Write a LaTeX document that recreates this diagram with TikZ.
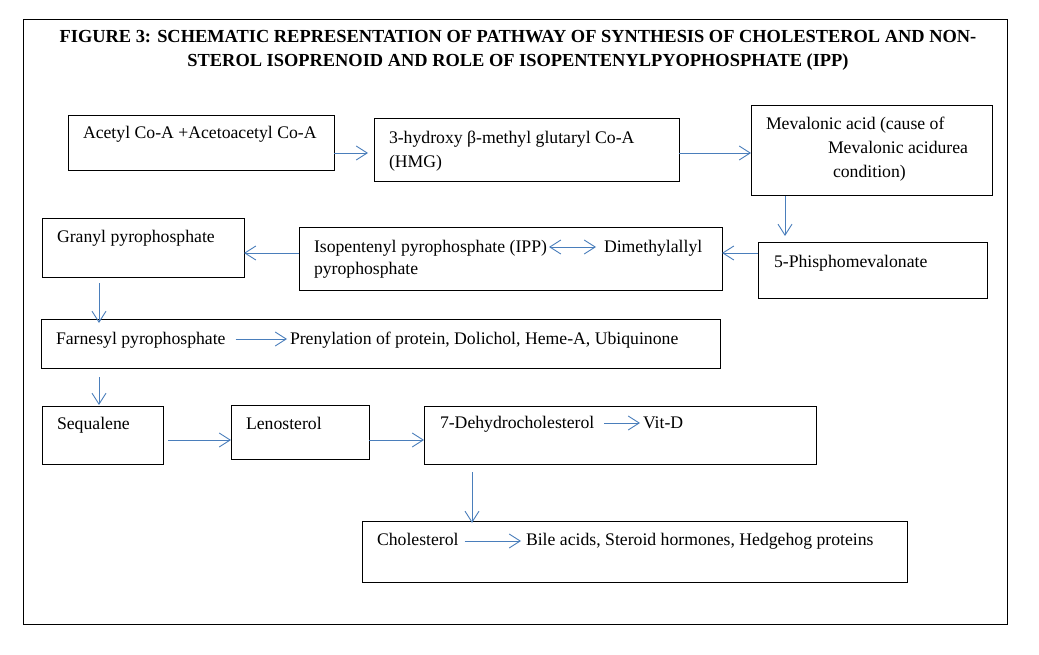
\documentclass[tikz,border=0pt]{standalone}
\usepackage{fontspec}
\setmainfont{Liberation Serif}
\usetikzlibrary{arrows.meta}
\definecolor{arrblue}{HTML}{4A7EBB}
\begin{document}
\begin{tikzpicture}[x=1pt,y=-1pt,
  box/.style={draw=black, line width=1pt, inner sep=0pt, outer sep=0pt, anchor=north west},
  txt/.style={inner sep=0pt, outer sep=0pt, anchor=base west, font=\fontsize{17.7}{21}\selectfont},
  ttl/.style={inner sep=0pt, outer sep=0pt, anchor=base, font=\fontsize{18.4}{21}\selectfont\bfseries},
  arr/.style={draw=arrblue, line width=0.9pt, -{Straight Barb[length=11pt,width=14pt]}},
  darr/.style={draw=arrblue, line width=0.9pt, {Straight Barb[length=11pt,width=14pt]}-{Straight Barb[length=11pt,width=14pt]}}]
\useasboundingbox (0,0) rectangle (1039,655);
\node[box, minimum width=984, minimum height=604] (frame) at (23,20) {};
\node[ttl] (title1) at (518,43) {FIGURE 3: SCHEMATIC REPRESENTATION OF PATHWAY OF SYNTHESIS OF CHOLESTEROL AND NON-};
\node[ttl] (title2) at (518,67) {STEROL ISOPRENOID AND ROLE OF ISOPENTENYLPYOPHOSPHATE (IPP)};
% boxes
\node[box, minimum width=266, minimum height=55] (acetyl) at (68,116) {};
\node[box, minimum width=305, minimum height=63] (hmg) at (374,119) {};
\node[box, minimum width=241, minimum height=90] (mev) at (751,106) {};
\node[box, minimum width=229, minimum height=55] (phos) at (758,243) {};
\node[box, minimum width=423, minimum height=62] (ipp) at (299,228) {};
\node[box, minimum width=202, minimum height=58] (gran) at (42,219) {};
\node[box, minimum width=679, minimum height=49] (farn) at (41,319) {};
\node[box, minimum width=121, minimum height=58] (seq) at (42,406) {};
\node[box, minimum width=138, minimum height=54] (len) at (231,405) {};
\node[box, minimum width=392, minimum height=58] (dehy) at (424,406) {};
\node[box, minimum width=545, minimum height=61] (chol) at (362,521) {};
% texts
\node[txt] (tacetyl) at (83,139) {Acetyl Co-A +Acetoacetyl Co-A};
\node[txt] (thmga) at (389,144) {3-hydroxy β-methyl glutaryl Co-A};
\node[txt] (thmgb) at (389,168) {(HMG)};
\node[txt] (tmeva) at (766,130) {Mevalonic acid (cause of};
\node[txt] (tmevb) at (828,154) {Mevalonic acidurea};
\node[txt] (tmevc) at (833,178) {condition)};
\node[txt] (tphos) at (774,267) {5-Phisphomevalonate};
\node[txt] (tippa) at (314,252) {Isopentenyl pyrophosphate (IPP)};
\node[txt] (tdim) at (604,252) {Dimethylallyl};
\node[txt] (tippb) at (314,275) {pyrophosphate};
\node[txt] (tgran) at (57,243) {Granyl pyrophosphate};
\node[txt] (tfarn) at (56,344) {Farnesyl pyrophosphate};
\node[txt] (tpren) at (290,344) {Prenylation of protein, Dolichol, Heme-A, Ubiquinone};
\node[txt] (tseq) at (57,429) {Sequalene};
\node[txt] (tlen) at (246,429) {Lenosterol};
\node[txt] (tdehy) at (440,428) {7-Dehydrocholesterol};
\node[txt] (tvitd) at (643,428) {Vit-D};
\node[txt] (tchol) at (377,545) {Cholesterol};
\node[txt] (tbile) at (526,545) {Bile acids, Steroid hormones, Hedgehog proteins};
% connectors between boxes
\draw[arr, shorten >=6pt] (acetyl.east |- 0,153) -- (hmg.west |- 0,153);
\draw[arr] (hmg.east |- 0,153) -- (mev.west |- 0,153);
\draw[arr, shorten >=7pt] (mev.south -| 785,0) -- (phos.north -| 785,0);
\draw[arr] (phos.west |- 0,253) -- (ipp.east |- 0,253);
\draw[arr] (ipp.west |- 0,253) -- (gran.east |- 0,253);
\draw[arr, shorten <=6pt, shorten >=-4pt] (gran.south -| 99,0) -- (farn.north -| 99,0);
\draw[arr, shorten <=9pt, shorten >=1pt] (farn.south -| 99,0) -- (seq.north -| 99,0);
\draw[arr, shorten <=5pt] (seq.east |- 0,440) -- (len.west |- 0,440);
\draw[arr] (len.east |- 0,440) -- (dehy.west |- 0,440);
\draw[arr, shorten <=8pt, shorten >=-2pt] (dehy.south -| 472,0) -- (chol.north -| 472,0);
% connectors inside boxes
\draw[darr, shorten <=2pt, shorten >=8pt] (tippa.east |- 0,247) -- (tdim.west |- 0,247);
\draw[arr, shorten <=10pt, shorten >=3pt] (tfarn.east |- 0,339) -- (tpren.west |- 0,339);
\draw[arr, shorten <=10pt, shorten >=3pt] (tdehy.east |- 0,423) -- (tvitd.west |- 0,423);
\draw[arr, shorten <=6pt, shorten >=5pt] (tchol.east |- 0,541) -- (tbile.west |- 0,541);
\end{tikzpicture}
\end{document}
